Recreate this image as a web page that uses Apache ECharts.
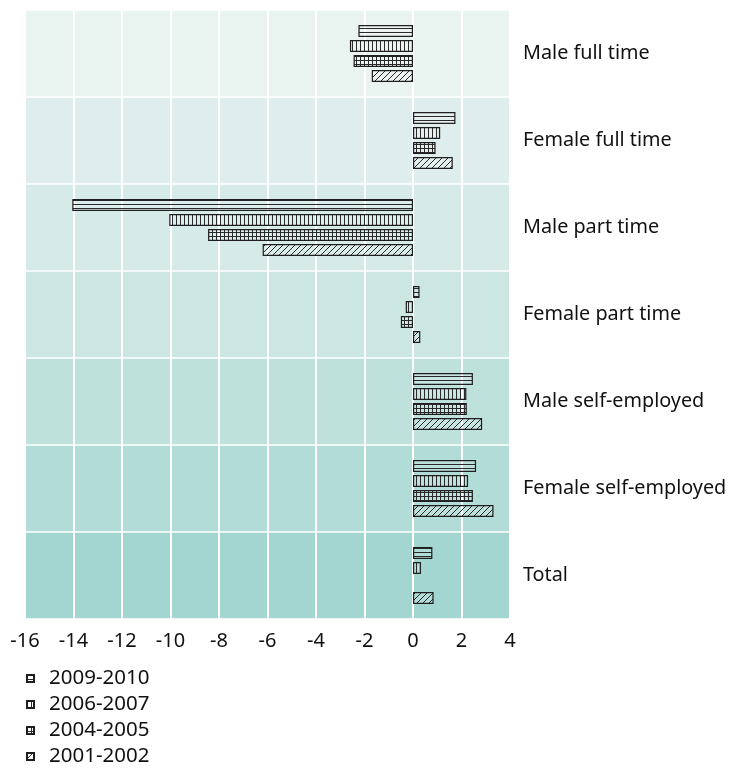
<!DOCTYPE html>
<html><head><meta charset="utf-8">
<script src="https://cdn.jsdelivr.net/npm/echarts@6/dist/echarts.min.js"></script>
<style>html,body{margin:0;padding:0;background:#fff}#c{width:729px;height:768px}</style>
</head><body><div id="c"></div>
<script>
const categories = ["Male full time","Female full time","Male part time","Female part time","Male self-employed","Female self-employed","Total"];
const seriesNames = ["2009-2010","2006-2007","2004-2005","2001-2002"];
const v2009 = [-2.25, 1.75, -14.05, 0.27, 2.47, 2.6, 0.8];
const v2006 = [-2.6, 1.12, -10.05, -0.3, 2.2, 2.27, 0.33];
const v2004 = [-2.45, 0.93, -8.45, -0.5, 2.22, 2.47, null];
const v2001 = [-1.7, 1.64, -6.2, 0.3, 2.85, 3.32, 0.85];
const xTicks = [-16,-14,-12,-10,-8,-6,-4,-2,0,2,4];
const bandColors = ["#e9f3f0","#dfeeec","#d6ebe8","#cce6e2","#bee1dc","#b2dcd7","#a4d6d1"];

function pattern(type){
  const c = document.createElement('canvas');
  const s = type==='diag'?6:4;
  c.width = s; c.height = s;
  const g = c.getContext('2d');
  g.fillStyle = 'rgba(255,255,255,0.15)';
  g.fillRect(0,0,s,s);
  g.strokeStyle = '#2a2a2a'; g.lineWidth = 1;
  g.beginPath();
  if(type==='h'||type==='grid'){ g.moveTo(0,0.5); g.lineTo(s,0.5); }
  if(type==='v'||type==='grid'){ g.moveTo(0.5,0); g.lineTo(0.5,s); }
  if(type==='diag'){ g.moveTo(0,s); g.lineTo(s,0); g.moveTo(-1,1); g.lineTo(1,-1); g.moveTo(s-1,s+1); g.lineTo(s+1,s-1); }
  g.stroke();
  return {image:c, repeat:'repeat'};
}
const pats = [pattern('h'),pattern('v'),pattern('grid'),pattern('diag')];
const values = [v2009,v2006,v2004,v2001];
const font = '"Noto Sans", "Open Sans", sans-serif';

const chart = echarts.init(document.getElementById('c'));
chart.setOption({
  animation:false,
  backgroundColor:'#fff',
  grid:{left:25,right:219,top:10,bottom:149,containLabel:false,outerBoundsMode:'none'},
  xAxis:{type:'value',min:-16,max:4,interval:2,
    axisLine:{show:false},axisTick:{show:false},
    axisLabel:{color:'#111',fontSize:20,fontFamily:font,margin:12},
    splitLine:{show:true,lineStyle:{color:'#fff',width:2}}},
  yAxis:{type:'category',data:categories,inverse:true,position:'right',
    axisLine:{show:false},axisTick:{show:false},
    axisLabel:{color:'#111',fontSize:19.8,fontFamily:font,margin:13,align:'left'},
    splitLine:{show:true,lineStyle:{color:'#fff',width:1.5}},
    splitArea:{show:true,areaStyle:{color:bandColors}}},
  legend:{orient:'vertical',left:26,top:668,height:100,padding:0,itemWidth:7,itemHeight:7,itemGap:5,icon:'rect',
    data:seriesNames,
    textStyle:{color:'#111',fontSize:20.5,lineHeight:20,fontFamily:font,padding:[0,0,0,10]}},
  series: seriesNames.map((n,i)=>({
    name:n,type:'bar',data:values[i],barWidth:12,barGap:'25%',
    itemStyle:{color:pats[i],borderColor:'#1e1e1e',borderWidth:1.2}
  }))
});
</script></body></html>
